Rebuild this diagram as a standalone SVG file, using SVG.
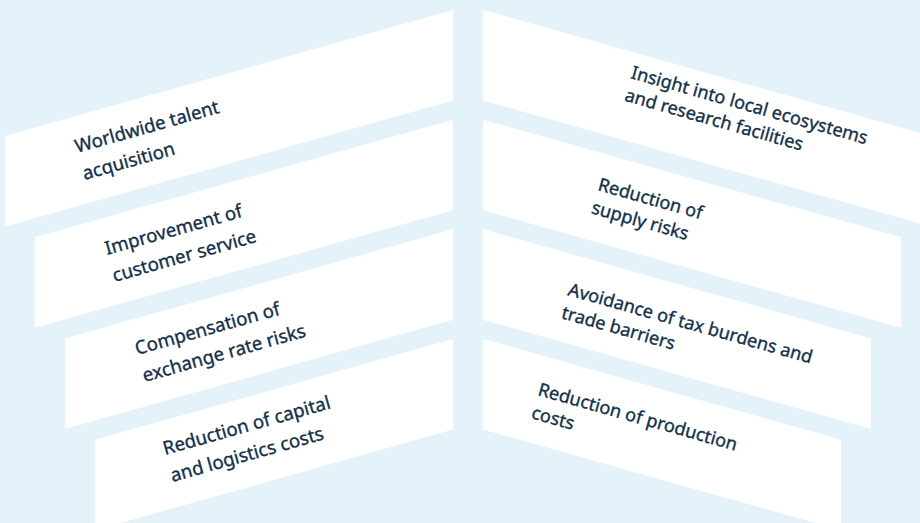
<svg xmlns="http://www.w3.org/2000/svg" width="920" height="523" viewBox="0 0 920 523">
<style>
.bg{fill:#e4f2fa}
.p{fill:#ffffff}
.t{font-family:"Noto Sans","DejaVu Sans",sans-serif;font-size:18.6px;fill:#12304a;stroke:#12304a;stroke-width:0.35}
.r{font-size:18.1px}
</style>
<rect class="bg" x="0" y="0" width="920" height="523"/>
<g id="left">
<g id="n1"><polygon class="p" points="5,136 453,10 453,100.5 5,226.5"/>
<text class="t" transform="translate(77,153) rotate(-15.71)"><tspan x="0" y="0">Worldwide talent</tspan><tspan x="0" y="28">acquisition</tspan></text></g>
<g id="n2"><polygon class="p" points="35,237.3 453,119.7 453,210.2 35,327.8"/>
<text class="t" transform="translate(107,255) rotate(-15.71)"><tspan x="0" y="0">Improvement of</tspan><tspan x="0" y="28">customer service</tspan></text></g>
<g id="n3"><polygon class="p" points="65,338.4 453,229.3 453,319.8 65,428.9"/>
<text class="t" transform="translate(137,355) rotate(-15.71)"><tspan x="0" y="0">Compensation of</tspan><tspan x="0" y="28">exchange rate risks</tspan></text></g>
<g id="n4"><polygon class="p" points="95,439.7 453,339 453,429.5 95,530.2"/>
<text class="t" transform="translate(165,455) rotate(-15.71)"><tspan x="0" y="0">Reduction of capital</tspan><tspan x="0" y="28">and logistics costs</tspan></text></g>
</g>
<g id="right">
<g id="n5"><polygon class="p" points="483,10 931,136 931,226.5 483,100.5"/>
<text class="t r" transform="translate(630,78) rotate(15.71)"><tspan x="0" y="0">Insight into local ecosystems</tspan><tspan x="0" y="23.5">and research facilities</tspan></text></g>
<g id="n6"><polygon class="p" points="483,119.7 901,237.3 901,327.8 483,210.2"/>
<text class="t r" transform="translate(597,190) rotate(15.71)"><tspan x="0" y="0">Reduction of</tspan><tspan x="0" y="24">supply risks</tspan></text></g>
<g id="n7"><polygon class="p" points="483,229.3 871,338.4 871,428.9 483,319.8"/>
<text class="t r" transform="translate(567,295) rotate(15.71)"><tspan x="0" y="0">Avoidance of tax burdens and</tspan><tspan x="0" y="24">trade barriers</tspan></text></g>
<g id="n8"><polygon class="p" points="483,339 841,439.7 841,530.2 483,429.5"/>
<text class="t r" transform="translate(537,395) rotate(15.71)"><tspan x="0" y="0">Reduction of production</tspan><tspan x="0" y="24">costs</tspan></text></g>
</g>
<g id="connectors"/>
</svg>
